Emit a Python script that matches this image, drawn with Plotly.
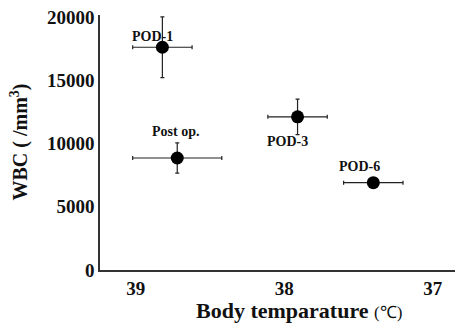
import plotly.graph_objects as go

labels = ["POD-1", "Post op.", "POD-3", "POD-6"]
temp = [38.82, 38.72, 37.91, 37.40]
temp_err = [0.2, 0.3, 0.2, 0.2]
wbc = [17600, 8850, 12100, 6900]
wbc_err = [2400, 1200, 1400, 0]
x_ticks = [39, 38, 37]
y_ticks = [0, 5000, 10000, 15000, 20000]

label_shift = {"POD-1": (-10, 11), "Post op.": (-2, 27), "POD-3": (-10, -25), "POD-6": (-14, 16)}

FONT = "Liberation Serif"

fig = go.Figure()
fig.add_trace(go.Scatter(
    x=temp, y=wbc, mode="markers",
    marker=dict(color="black", size=13),
    error_x=dict(type="data", array=temp_err, color="#222", thickness=1.2, width=2),
    error_y=dict(type="data", array=wbc_err, color="#222", thickness=1.2, width=2),
    showlegend=False,
))

for lab, x, y in zip(labels, temp, wbc):
    dx, dy = label_shift[lab]
    fig.add_annotation(x=x, y=y, text="<b>%s</b>" % lab, showarrow=False,
                       xshift=dx, yshift=dy,
                       font=dict(family=FONT, size=14, color="#111"))

# axis titles
fig.add_annotation(xref="paper", yref="paper", x=0.56, y=0, yshift=-40,
                   xanchor="center", yanchor="middle", showarrow=False,
                   text="<b>Body temparature </b><span style='font-size:17px'>(℃)</span>",
                   font=dict(size=22, family=FONT, color="#111"))
fig.add_annotation(xref="paper", yref="paper", x=0, xshift=-81, y=0.5,
                   xanchor="center", yanchor="middle", showarrow=False, textangle=-90,
                   text="<b>WBC ( /mm<sup>3</sup>)</b>",
                   font=dict(size=20, family=FONT, color="#111"))

fig.update_layout(
    width=455, height=323,
    margin=dict(l=100, r=0, t=15, b=53),
    paper_bgcolor="white", plot_bgcolor="white",
    font=dict(family=FONT, color="#111"),
)
fig.update_xaxes(
    range=[39.24, 36.85], tickvals=x_ticks,
    ticktext=["<b>%d</b>" % v for v in x_ticks],
    tickfont=dict(size=19, family=FONT),
    showgrid=False, zeroline=False, showline=True, linecolor="#333", linewidth=1.5,
    ticks="", ticklen=0, automargin=False,
)
fig.update_yaxes(
    range=[0, 20150], tickvals=y_ticks,
    ticktext=["<b>%d</b>" % v for v in y_ticks],
    tickfont=dict(size=19, family=FONT),
    showgrid=False, zeroline=False, showline=True, linecolor="#333", linewidth=1.5,
    ticks="", ticklen=0, automargin=False,
)

fig.write_html("out.html", config={"displayModeBar": False},
               post_script="document.body.style.margin='0';")
